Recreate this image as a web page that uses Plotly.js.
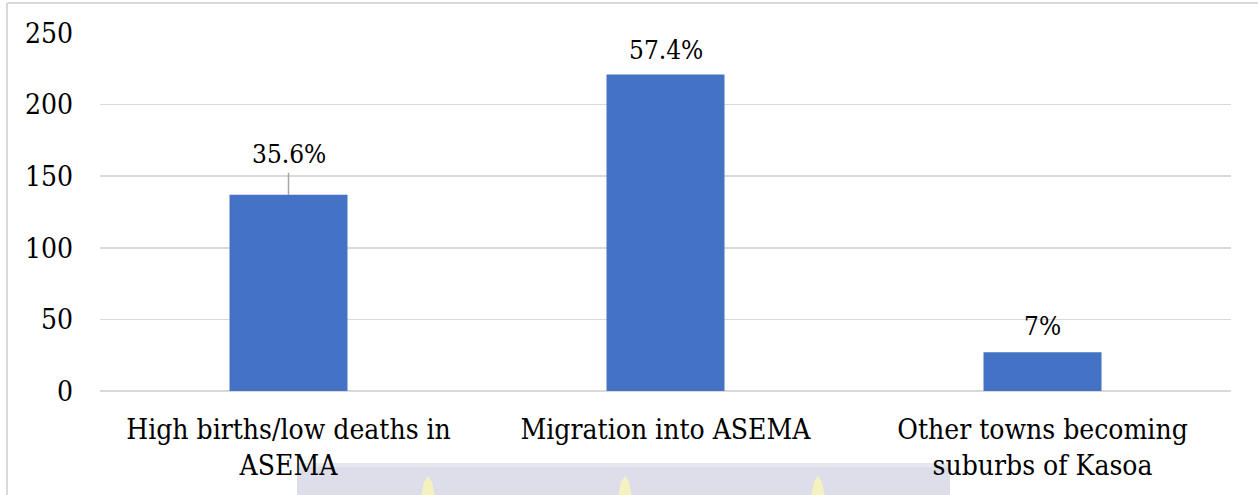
<!DOCTYPE html>
<html>
<head>
<meta charset="utf-8">
<script src="https://cdn.plot.ly/plotly-3.0.1.min.js"></script>
<style>
  html, body { margin: 0; padding: 0; background: #ffffff; }
  #chart { width: 1258px; height: 495px; }
</style>
</head>
<body>
<div id="chart"></div>
<script>
// Reasons given for population growth (number of respondents)
const categories = [
  'High births/low deaths in<br>ASEMA',
  'Migration into ASEMA',
  'Other towns becoming<br>suburbs of Kasoa'
];
const counts = [137, 221, 27];
const yTicks = [0, 50, 100, 150, 200, 250];

// share of all responses, shown above each bar
const total = counts.reduce((a, b) => a + b, 0);
const pctLabels = counts.map(v => parseFloat((100 * v / total).toFixed(1)) + '%');

const W = 1258, H = 495;
const L = 100, R = 27, T = 33, B = 104;
const plotW = W - L - R, plotH = H - T - B;
const px = x => (x - L) / plotW;          // pixel -> paper x
const py = y => (H - B - y) / plotH;       // pixel -> paper y

const SERIF = 'DejaVu Serif Condensed';

const trace = {
  type: 'bar',
  x: categories,
  y: counts,
  width: 0.313,
  marker: { color: '#4472C4' },
  hoverinfo: 'none'
};

// value labels; the first one is lifted and joined to its bar by a leader line
const labelShift = [41, 25, 26];
const annotations = categories.map((c, i) => ({
  x: c, y: counts[i], xref: 'x', yref: 'y',
  text: pctLabels[i], showarrow: false,
  yshift: labelShift[i], yanchor: 'middle',
  font: { family: SERIF, size: 26, color: '#000000' }
}));

const shapes = [
  { type: 'line', xref: 'x', yref: 'y', x0: categories[0], x1: categories[0],
    y0: counts[0], y1: counts[0] + 22 / (plotH / 250),
    line: { color: '#a6a6a6', width: 1.5 } },
  // outer frame (left and top edges)
  { type: 'line', xref: 'paper', yref: 'paper', x0: px(7), x1: px(7), y0: py(3), y1: py(H + 5),
    line: { color: '#d9d9d9', width: 2 } },
  { type: 'line', xref: 'paper', yref: 'paper', x0: px(7), x1: px(W + 5), y0: py(3), y1: py(3),
    line: { color: '#d9d9d9', width: 2 } },
  // page watermark band
  { type: 'rect', xref: 'paper', yref: 'paper', x0: px(297), x1: px(950), y0: py(463), y1: py(H + 5),
    fillcolor: 'rgba(212,214,228,0.8)', line: { width: 0 }, layer: 'below' },
  { type: 'rect', xref: 'paper', yref: 'paper', x0: px(297), x1: px(950), y0: py(463), y1: py(467),
    fillcolor: 'rgba(232,233,240,0.9)', line: { width: 0 }, layer: 'below' }
];
[428, 625, 818].forEach(cx => {
  shapes.push({
    type: 'path', xref: 'paper', yref: 'paper', layer: 'below',
    path: `M ${px(cx - 7)} ${py(H + 2)} L ${px(cx - 4)} ${py(482)} L ${px(cx)} ${py(476)} L ${px(cx + 4)} ${py(482)} L ${px(cx + 7)} ${py(H + 2)} Z`,
    fillcolor: 'rgba(246,242,190,0.95)', line: { width: 0 }
  });
});

const layout = {
  width: W, height: H,
  margin: { l: L, r: R, t: T, b: B, pad: 0 },
  paper_bgcolor: '#ffffff',
  plot_bgcolor: '#ffffff',
  showlegend: false,
  bargap: 0.687,
  xaxis: {
    type: 'category',
    showgrid: false, showline: false, zeroline: false,
    ticks: '', ticklabelstandoff: 19,
    tickfont: { family: SERIF, size: 28, color: '#000000' },
    fixedrange: true
  },
  yaxis: {
    range: [0, 250],
    tickvals: yTicks,
    ticktext: yTicks.map(String),
    showgrid: true, gridcolor: '#d9d9d9', gridwidth: 1.5,
    zeroline: true, zerolinecolor: '#d9d9d9', zerolinewidth: 1.5,
    showline: false, ticks: '', ticklabelstandoff: 26,
    tickfont: { family: SERIF, size: 28, color: '#000000' },
    fixedrange: true
  },
  annotations: annotations,
  shapes: shapes
};

Plotly.newPlot('chart', [trace], layout, { displayModeBar: false, staticPlot: true });
</script>
</body>
</html>
